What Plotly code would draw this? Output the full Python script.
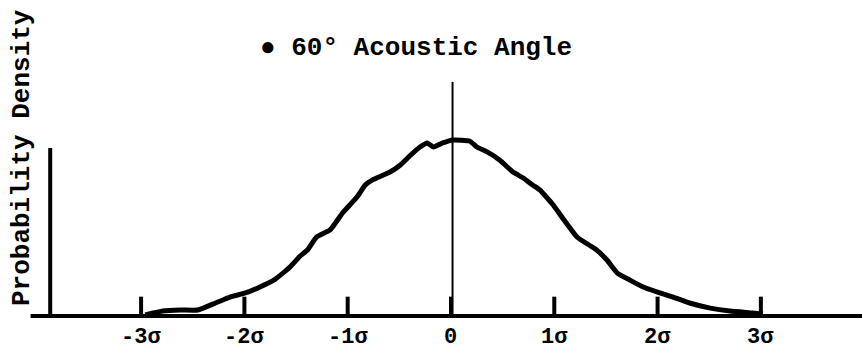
import plotly.graph_objects as go

# Measured distribution of the deviation, in units of sigma
sigma = [-2.96, -2.79, -2.62, -2.45, -2.28, -2.14, -1.99, -1.85, -1.70, -1.56,
         -1.46, -1.39, -1.30, -1.17, -1.05, -0.91, -0.83, -0.76, -0.59, -0.49,
         -0.40, -0.30, -0.23, -0.17, -0.08, 0.02, 0.18, 0.25, 0.35, 0.47,
         0.60, 0.70, 0.79, 0.86, 0.99, 1.08, 1.22, 1.35, 1.41, 1.51,
         1.61, 1.73, 1.86, 2.00, 2.15, 2.31, 2.51, 2.70, 2.92, 3.02]
density = [0.006, 0.028, 0.034, 0.034, 0.074, 0.108, 0.131, 0.165, 0.210, 0.278,
           0.341, 0.375, 0.449, 0.489, 0.585, 0.676, 0.744, 0.773, 0.818, 0.858,
           0.909, 0.960, 0.983, 0.960, 0.983, 1.000, 0.994, 0.960, 0.932, 0.886,
           0.818, 0.784, 0.744, 0.716, 0.631, 0.557, 0.449, 0.398, 0.375, 0.318,
           0.244, 0.205, 0.165, 0.136, 0.108, 0.074, 0.045, 0.028, 0.017, 0.011]

tick_vals = [-3, -2, -1, 0, 1, 2, 3]
tick_text = ["-3σ", "-2σ", "-1σ", "0", "1σ", "2σ", "3σ"]

title_text = "● 60° Acoustic Angle"
ytitle_text = "Probability Density"

W, H = 862, 356
# axis ranges chosen so that 1 sigma spans ~103 px and the baseline sits near the bottom
x_range = [-4.366, 3.979]
y_range = [-0.227, 1.795]

FONT = "Liberation Mono"
INK = "black"

fig = go.Figure()
fig.add_trace(go.Scatter(
    x=sigma, y=density, mode="lines",
    line=dict(color=INK, width=5, shape="spline", smoothing=0.4),
    hoverinfo="skip", showlegend=False,
))

shapes = [
    # baseline
    dict(type="line", xref="x", yref="y", x0=-4.07, x1=x_range[1], y0=0, y1=0,
         line=dict(color=INK, width=4)),
    # left ordinate
    dict(type="line", xref="x", yref="y", x0=-3.88, x1=-3.88, y0=0, y1=0.955,
         line=dict(color=INK, width=4)),
    # central reference line
    dict(type="line", xref="x", yref="y", x0=0.015, x1=0.015, y0=0, y1=1.33,
         line=dict(color=INK, width=2)),
]
for v in tick_vals:
    shapes.append(dict(type="line", xref="x", yref="y", x0=v, x1=v, y0=0, y1=0.11,
                       line=dict(color=INK, width=4)))

annotations = []
for v, t in zip(tick_vals, tick_text):
    annotations.append(dict(x=v, y=-0.12, xref="x", yref="y", text=f"<b>{t}</b>",
                            showarrow=False, font=dict(family=FONT, size=22, color=INK),
                            xanchor="center", yanchor="middle"))
annotations.append(dict(x=258 / W, y=1 - 48 / H, xref="paper", yref="paper",
                        text=f"<b>{title_text}</b>", showarrow=False,
                        font=dict(family=FONT, size=26, color=INK),
                        xanchor="left", yanchor="middle"))
annotations.append(dict(x=22 / W, y=1 - 158 / H, xref="paper", yref="paper",
                        text=f"<b>{ytitle_text}</b>", showarrow=False, textangle=-90,
                        font=dict(family=FONT, size=26, color=INK),
                        xanchor="center", yanchor="middle"))

fig.update_layout(
    width=W, height=H,
    margin=dict(l=0, r=0, t=0, b=0),
    paper_bgcolor="white", plot_bgcolor="white",
    xaxis=dict(range=x_range, visible=False, fixedrange=True),
    yaxis=dict(range=y_range, visible=False, fixedrange=True),
    shapes=shapes, annotations=annotations,
)

fig.write_html("out.html")
